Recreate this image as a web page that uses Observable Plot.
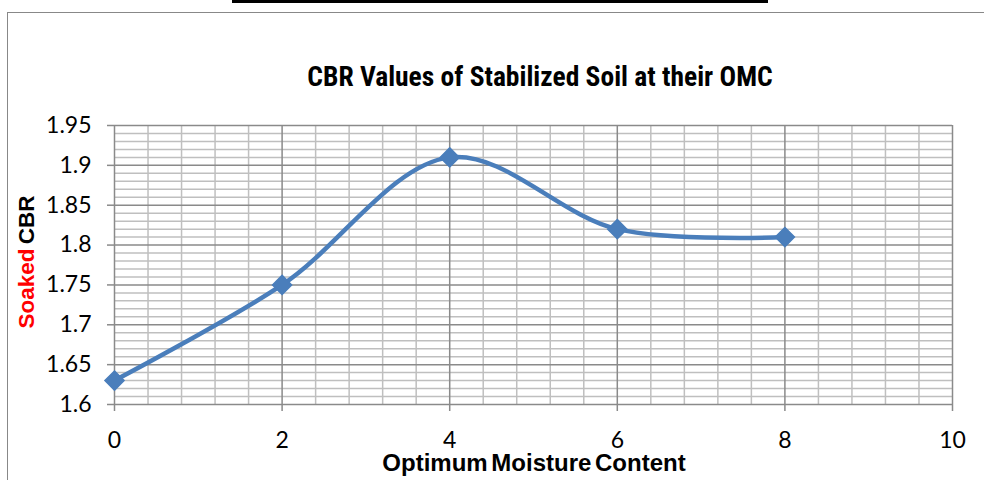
<!DOCTYPE html>
<html><head><meta charset="utf-8">
<script src="https://cdn.jsdelivr.net/npm/d3@7"></script>
<script src="https://cdn.jsdelivr.net/npm/@observablehq/plot@0.6"></script>
<style>
body{margin:0;background:#fff;}
#wrap{position:relative;width:984px;height:480px;overflow:hidden;background:#fff;}
#wrap svg{position:absolute;left:0;top:0;}
#frame{position:absolute;left:7px;top:12px;width:1100px;height:600px;border:1.5px solid #888;box-sizing:border-box;}
#topbar{position:absolute;left:232px;top:0;width:536px;height:3px;background:#000;}
#title{position:absolute;left:40px;width:1000px;top:60px;text-align:center;font-family:"Liberation Sans Narrow","Arial Narrow","Roboto Condensed",sans-serif;font-weight:bold;font-size:27.5px;color:#000;white-space:nowrap;}
#xlabel{position:absolute;left:34px;width:1000px;top:449px;text-align:center;font-family:"Liberation Sans Narrow","Arial Narrow",sans-serif;font-weight:bold;font-size:24px;color:#000;white-space:nowrap;word-spacing:-3px;}
#ylabel{position:absolute;left:27px;top:262px;transform:translate(-50%,-50%) rotate(-90deg);font-family:"Liberation Sans Narrow","Arial Narrow",sans-serif;font-weight:bold;font-size:22.5px;white-space:nowrap;word-spacing:-2px;}
</style>
</head><body>
<div id="wrap">
  <div id="frame"></div>
  <div id="topbar"></div>
</div>
<script>
const titleText = "CBR Values of Stabilized Soil at their OMC";
const xLabelText = "Optimum Moisture Content";
const yLabelRed = "Soaked";
const yLabelBlack = "CBR";
const moisture = [0, 2, 4, 6, 8];
const cbr = [1.63, 1.75, 1.91, 1.82, 1.81];
const xTicks = [0, 2, 4, 6, 8, 10];
const yTicks = [1.6, 1.65, 1.7, 1.75, 1.8, 1.85, 1.9, 1.95];
const xDomain = [0, 10];
const yDomain = [1.6, 1.95];

const data = moisture.map((x, i) => ({x, y: cbr[i]}));
const xMinor = d3.range(0, 51).map(i => i * 0.4).filter(v => v <= 10.0001 && Math.abs(v / 2 - Math.round(v / 2)) > 1e-6);
const yMinor = d3.range(0, 36).map(i => 1.6 + i * 0.01).filter(v => Math.abs(v / 0.05 - Math.round(v / 0.05)) > 1e-6);

const blue = "#4a7ebb";
const chart = Plot.plot({
  width: 984,
  height: 480,
  marginLeft: 114,
  marginRight: 32,
  marginTop: 125,
  marginBottom: 76,
  style: {background: "transparent", fontFamily: "Lato, 'Open Sans', sans-serif", fontSize: "23px", color: "#000"},
  x: {domain: xDomain, ticks: xTicks, tickSize: 7, tickPadding: 20, label: null, tickFormat: d => String(d)},
  y: {domain: yDomain, ticks: yTicks, tickSize: 7, tickPadding: 16, label: null, tickFormat: d => String(+d.toFixed(2))},
  marks: [
    Plot.ruleX(xMinor, {stroke: "#bfbfbf", strokeWidth: 1.5}),
    Plot.ruleY(yMinor, {stroke: "#bfbfbf", strokeWidth: 1.5}),
    Plot.ruleX(xTicks, {stroke: "#8a8a8a", strokeWidth: 1.5}),
    Plot.ruleY(yTicks, {stroke: "#8a8a8a", strokeWidth: 1.5}),
    Plot.axisX({ticks: xTicks, tickSize: 7, tickPadding: 20, stroke: "#8a8a8a", strokeWidth: 1.5, tickFormat: d => String(d), label: null, fill: "#000"}),
    Plot.axisY({ticks: yTicks, tickSize: 7, tickPadding: 16, stroke: "#8a8a8a", strokeWidth: 1.5, tickFormat: d => String(+d.toFixed(2)), label: null, fill: "#000"}),
    Plot.line(data, {x: "x", y: "y", curve: "catmull-rom", stroke: blue, strokeWidth: 4.5}),
    Plot.dot(data, {x: "x", y: "y", symbol: "diamond2", r: 8.6, fill: blue, stroke: blue})
  ]
});
const wrap = document.getElementById("wrap");
wrap.insertBefore(chart, wrap.firstChild);

const t = document.createElement("div"); t.id = "title"; t.textContent = titleText; wrap.appendChild(t);
const xl = document.createElement("div"); xl.id = "xlabel"; xl.textContent = xLabelText; wrap.appendChild(xl);
const yl = document.createElement("div"); yl.id = "ylabel";
const r = document.createElement("span"); r.style.color = "#ff0000"; r.textContent = yLabelRed;
const b = document.createElement("span"); b.style.color = "#000"; b.textContent = " " + yLabelBlack;
yl.appendChild(r); yl.appendChild(b); wrap.appendChild(yl);
</script>
</body></html>
